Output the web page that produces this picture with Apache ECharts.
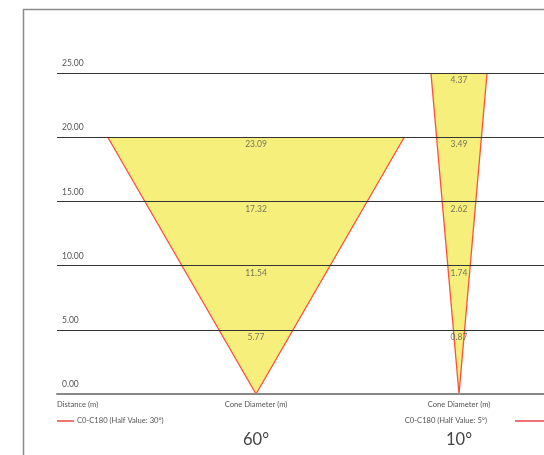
<!DOCTYPE html>
<html>
<head>
<meta charset="utf-8">
<script src="https://cdn.jsdelivr.net/npm/echarts@6/dist/echarts.min.js"></script>
<style>html,body{margin:0;padding:0;background:#fff}#c{width:544px;height:455px}</style>
</head>
<body>
<div id="c"></div>
<script>
// ---- data ----
const distanceTicks = [0, 5, 10, 15, 20, 25];
const cone60Distances = [5, 10, 15, 20];
const cone60Diameters = [5.77, 11.54, 17.32, 23.09];
const cone10Distances = [5, 10, 15, 20, 25];
const cone10Diameters = [0.87, 1.74, 2.62, 3.49, 4.37];
const cone60Title = '60°';
const cone10Title = '10°';
const cone60Legend = 'C0-C180 (Half Value: 30°)';
const cone10Legend = 'C0-C180 (Half Value: 5°)';

// ---- layout (not data) ----
const X_MAX = 37.93;
const C60 = 15.50;
const C10 = 31.31;
const FONT = 'Lato, "Noto Sans", sans-serif';

const chart = echarts.init(document.getElementById('c'));

function coneSeries(center, dists, diams) {
  const top = dists[dists.length - 1];
  const d = diams[diams.length - 1];
  return {
    type: 'custom',
    z: 1,
    data: [[center, top, d]],
    renderItem: function (params, api) {
      const c = api.value(0), t = api.value(1), dd = api.value(2);
      const L = api.coord([c - dd / 2, t]), R = api.coord([c + dd / 2, t]), A = api.coord([c, 0]);
      return {
        type: 'group',
        children: [
          { type: 'polygon', shape: { points: [L, R, A] }, style: { fill: '#f6ef7c', stroke: null } },
          { type: 'polyline', shape: { points: [L, A, R] }, style: { fill: null, stroke: '#ff4f3a', lineWidth: 1.3 } }
        ]
      };
    }
  };
}
function labelSeries(center, dists, diams) {
  return {
    type: 'scatter',
    z: 4,
    symbolSize: 0,
    silent: true,
    data: dists.map((v, i) => [center, v, diams[i]]),
    label: {
      show: true, position: 'bottom', distance: 3,
      formatter: p => p.value[2].toFixed(2),
      color: '#555', fontSize: 8.5, fontFamily: FONT
    }
  };
}

chart.setOption({
  animation: false,
  grid: { left: 57, right: 0, top: 73, bottom: 61, z: 2 },
  xAxis: {
    type: 'value', min: 0, max: X_MAX, z: 3,
    axisLine: { show: true, lineStyle: { color: '#888', width: 2 } },
    axisTick: { show: false }, axisLabel: { show: false }, splitLine: { show: false }
  },
  yAxis: {
    type: 'value', min: 0, max: 25, interval: 5, z: 3,
    axisLine: { show: false }, axisTick: { show: false },
    axisLabel: {
      inside: true, margin: 5, verticalAlign: 'bottom', padding: [0, 0, 5, 0],
      formatter: v => v.toFixed(2), color: '#555', fontSize: 8.5, fontFamily: FONT
    },
    splitLine: { lineStyle: { color: '#333', width: 1 } }
  },
  series: [
    coneSeries(C60, cone60Distances, cone60Diameters),
    coneSeries(C10, cone10Distances, cone10Diameters),
    labelSeries(C60, cone60Distances, cone60Diameters),
    labelSeries(C10, cone10Distances, cone10Diameters)
  ]
});

const p60 = chart.convertToPixel({ gridIndex: 0 }, [C60, 0]);
const p10 = chart.convertToPixel({ gridIndex: 0 }, [C10, 0]);
const base = p60[1];
const small = { fontSize: 7.6, fontFamily: FONT, fill: '#555' };

chart.setOption({
  graphic: [
    { type: 'line', shape: { x1: 23.5, y1: 9, x2: 23.5, y2: 455 }, style: { stroke: '#8a8a8a', lineWidth: 1.5 } },
    { type: 'line', shape: { x1: 23, y1: 9.5, x2: 544, y2: 9.5 }, style: { stroke: '#8a8a8a', lineWidth: 1.5 } },
    { type: 'text', x: 57, y: base + 11, style: Object.assign({ text: 'Distance (m)', textVerticalAlign: 'middle' }, small) },
    { type: 'text', x: p60[0], y: base + 11, style: Object.assign({ text: 'Cone Diameter (m)', textAlign: 'center', textVerticalAlign: 'middle' }, small) },
    { type: 'text', x: p10[0], y: base + 11, style: Object.assign({ text: 'Cone Diameter (m)', textAlign: 'center', textVerticalAlign: 'middle' }, small) },
    { type: 'line', shape: { x1: 57, y1: base + 27, x2: 74, y2: base + 27 }, style: { stroke: '#e00000', lineWidth: 1.1 } },
    { type: 'text', x: 77, y: base + 27, style: Object.assign({ text: cone60Legend, textVerticalAlign: 'middle' }, small) },
    { type: 'text', x: 487, y: base + 27, style: Object.assign({ text: cone10Legend, textAlign: 'right', textVerticalAlign: 'middle' }, small) },
    { type: 'line', shape: { x1: 515, y1: base + 27, x2: 544, y2: base + 27 }, style: { stroke: '#e00000', lineWidth: 1.1 } },
    { type: 'text', x: p60[0], y: base + 46, style: { text: cone60Title, textAlign: 'center', textVerticalAlign: 'middle', fontSize: 16.5, fontFamily: FONT, fill: '#444' } },
    { type: 'text', x: p10[0], y: base + 46, style: { text: cone10Title, textAlign: 'center', textVerticalAlign: 'middle', fontSize: 16.5, fontFamily: FONT, fill: '#444' } }
  ]
});
</script>
</body>
</html>
